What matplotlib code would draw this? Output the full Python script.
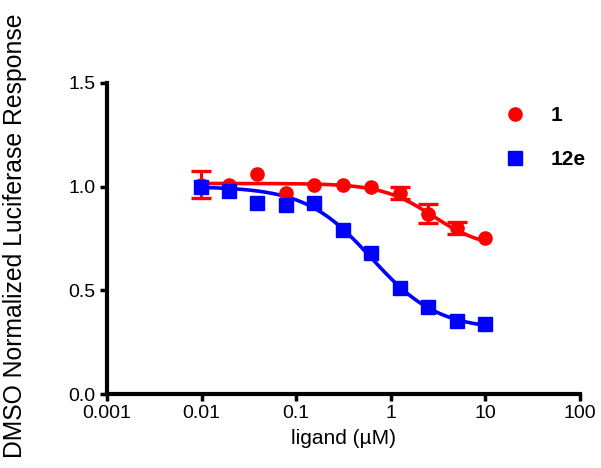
import numpy as np
import matplotlib.pyplot as plt

plt.rcParams['font.family'] = ['Liberation Sans', 'DejaVu Sans']

# ligand concentrations (uM), 2-fold dilutions
conc = [0.00977, 0.0195, 0.039, 0.078, 0.156, 0.3125, 0.625, 1.25, 2.5, 5.0, 10.0]

# compound 1
resp_1 = [1.01, 1.01, 1.06, 0.97, 1.01, 1.01, 1.00, 0.97, 0.87, 0.80, 0.75]
err_1 = [0.065, 0.0, 0.0, 0.0, 0.0, 0.0, 0.0, 0.03, 0.045, 0.03, 0.0]

# compound 12e
resp_12e = [1.00, 0.98, 0.92, 0.91, 0.92, 0.79, 0.68, 0.51, 0.42, 0.35, 0.34]
err_12e = [0.0] * 11

# four-parameter logistic fit parameters (top, bottom, EC50, hill)
fit_1 = (1.015, 0.70, 2.8, 1.6)
fit_12e = (1.0, 0.31, 0.626, 1.24)

x_ticks = [0.001, 0.01, 0.1, 1, 10, 100]
x_tick_labels = ['0.001', '0.01', '0.1', '1', '10', '100']
y_ticks = [0.0, 0.5, 1.0, 1.5]
y_tick_labels = ['0.0', '0.5', '1.0', '1.5']


def logistic(x, top, bottom, ec50, hill):
    return bottom + (top - bottom) / (1 + (x / ec50) ** hill)


def draw(ax, x, y, err, fit, color, marker):
    xs = np.logspace(np.log10(x[0]), np.log10(x[-1]), 200)
    ax.plot(xs, logistic(xs, *fit), color=color, lw=2.6, zorder=2)
    x = np.array(x)
    y = np.array(y)
    err = np.array(err)
    m = err > 0
    if m.any():
        ax.errorbar(x[m], y[m], yerr=err[m], fmt='none', ecolor=color,
                    capsize=7, elinewidth=2.2, capthick=2.4, zorder=3)
    ax.plot(x, y, marker, color=color, ms=9.5, ls='none', zorder=4)


fig = plt.figure(figsize=(6.01, 4.68), dpi=100)
ax = fig.add_axes([0.178, 0.158, 0.787, 0.665])

draw(ax, conc, resp_1, err_1, fit_1, '#ff0000', 'o')
draw(ax, conc, resp_12e, err_12e, fit_12e, '#0000ff', 's')

ax.set_xscale('log')
ax.set_xlim(0.001, 100)
ax.set_ylim(0, 1.5)
ax.set_xticks(x_ticks)
ax.set_xticklabels(x_tick_labels)
ax.minorticks_off()
ax.set_yticks(y_ticks)
ax.set_yticklabels(y_tick_labels)

for s in ['top', 'right']:
    ax.spines[s].set_visible(False)
for s in ['left', 'bottom']:
    ax.spines[s].set_linewidth(3)
ax.tick_params(width=2.5, length=5, labelsize=14, colors='black', pad=3)

ax.set_xlabel('ligand (\u00b5M)', fontsize=15, labelpad=5)
ax.set_ylabel('DMSO Normalized Luciferase Response', fontsize=17.8)
ax.yaxis.set_label_coords(-0.17, 0.51)

# legend
handles = [
    plt.Line2D([], [], marker='o', color='#ff0000', ls='none', ms=9.5),
    plt.Line2D([], [], marker='s', color='#0000ff', ls='none', ms=9.5),
]
ax.legend(handles, ['1', '12e'], loc='upper left',
          bbox_to_anchor=(0.78, 0.985), frameon=False,
          prop={'weight': 'bold', 'size': 15}, labelspacing=1.2,
          handletextpad=0.7)

fig.savefig('out.png', dpi=100)
